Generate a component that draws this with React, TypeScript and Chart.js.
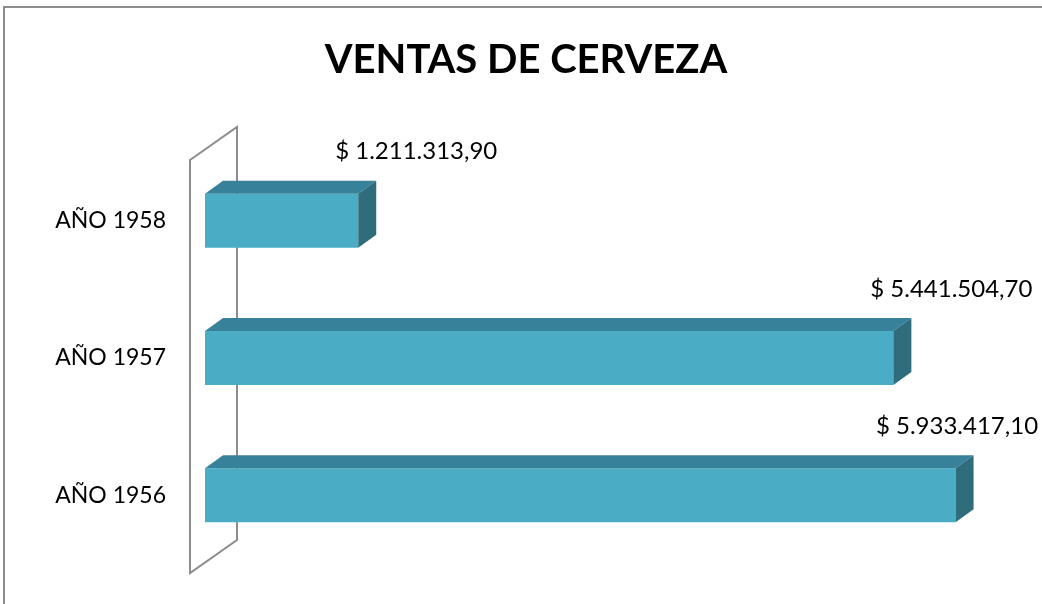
import React, { useEffect, useRef } from "react";
import { Chart, registerables } from "chart.js";

Chart.register(...registerables);

const TITLE = "VENTAS DE CERVEZA";
const categories = ["AÑO 1958", "AÑO 1957", "AÑO 1956"];
const ventas = [1211313.9, 5441504.7, 5933417.1];
const axisMin = 0;
const axisMax = 6000000;

const FONT = "Lato, 'Open Sans', sans-serif";
const FRONT = "#4BACC6";
const TOP = "#37829A";
const SIDE = "#2F6C7C";
const WALL = "#8c8c8c";
const DX = 18;
const DY = -13;

function fmt(v: number): string {
  const fixed = v.toFixed(2);
  const [ent, dec] = fixed.split(".");
  const grouped = ent.replace(/\B(?=(\d{3})+(?!\d))/g, ".");
  return "$ " + grouped + "," + dec;
}

const decoPlugin = {
  id: "deco",
  beforeDraw(chart: any) {
    const ctx = chart.ctx;
    ctx.save();
    ctx.fillStyle = "#ffffff";
    ctx.fillRect(0, 0, chart.width, chart.height);
    ctx.strokeStyle = WALL;
    ctx.lineWidth = 2;
    ctx.strokeRect(4, 7, chart.width + 100, chart.height + 100);
    // title
    ctx.fillStyle = "#000";
    ctx.font = `bold 40px ${FONT}`;
    ctx.textAlign = "center";
    ctx.textBaseline = "alphabetic";
    ctx.fillText(TITLE, chart.width / 2 + 5, 73);
    ctx.restore();
  },
  beforeDatasetsDraw(chart: any) {
    const ctx = chart.ctx;
    const a = chart.chartArea;
    const fx = a.left - 15;
    const ft = a.top + 8;
    const fb = a.bottom + 9;
    const wdx = 47;
    const wdy = -33;
    ctx.save();
    ctx.strokeStyle = WALL;
    ctx.lineWidth = 2;
    ctx.beginPath();
    ctx.moveTo(fx, ft);
    ctx.lineTo(fx + wdx, ft + wdy);
    ctx.lineTo(fx + wdx, fb + wdy);
    ctx.lineTo(fx, fb);
    ctx.closePath();
    ctx.stroke();
    ctx.restore();
  },
  afterDatasetsDraw(chart: any) {
    const ctx = chart.ctx;
    const meta = chart.getDatasetMeta(0);
    ctx.save();
    meta.data.forEach((el: any, i: number) => {
      const x0 = el.base;
      const x1 = el.x;
      const yt = el.y - el.height / 2;
      const yb = el.y + el.height / 2;
      // top face
      ctx.fillStyle = TOP;
      ctx.beginPath();
      ctx.moveTo(x0, yt);
      ctx.lineTo(x1, yt);
      ctx.lineTo(x1 + DX, yt + DY);
      ctx.lineTo(x0 + DX, yt + DY);
      ctx.closePath();
      ctx.fill();
      // side face
      ctx.fillStyle = SIDE;
      ctx.beginPath();
      ctx.moveTo(x1, yt);
      ctx.lineTo(x1 + DX, yt + DY);
      ctx.lineTo(x1 + DX, yb + DY);
      ctx.lineTo(x1, yb);
      ctx.closePath();
      ctx.fill();
      // label
      ctx.fillStyle = "#000";
      ctx.font = `24px ${FONT}`;
      ctx.textAlign = "center";
      ctx.textBaseline = "middle";
      const cx = Math.min(x1 + 58, chart.width - 85);
      ctx.fillText(fmt(ventas[i]), cx, yt - 42);
    });
    ctx.restore();
  },
};

export default function App() {
  const ref = useRef<HTMLCanvasElement | null>(null);
  useEffect(() => {
    document.body.style.margin = "0";
    const canvas = ref.current!;
    const chart = new Chart(canvas, {
      type: "bar",
      data: {
        labels: categories,
        datasets: [
          {
            data: ventas,
            backgroundColor: FRONT,
            borderWidth: 0,
            categoryPercentage: 1,
            barPercentage: 0.3934,
          },
        ],
      },
      options: {
        indexAxis: "y",
        animation: false,
        responsive: false,
        maintainAspectRatio: false,
        devicePixelRatio: 1,
        layout: { padding: { top: 152, bottom: 40, left: 0, right: 78 } },
        plugins: {
          legend: { display: false },
          title: { display: false },
          tooltip: { enabled: false },
        },
        scales: {
          x: { display: false, min: axisMin, max: axisMax },
          y: {
            afterFit: (s: any) => {
              s.width = 205;
              s.paddingTop = 0;
              s.paddingBottom = 0;
            },
            grid: { display: false, drawTicks: false },
            border: { display: false },
            ticks: {
              padding: 39,
              color: "#000",
              font: { family: FONT, size: 23 },
            },
          },
        },
      },
      plugins: [decoPlugin],
    });
    return () => chart.destroy();
  }, []);
  return <canvas ref={ref} width={1042} height={604} style={{ display: "block" }} />;
}
